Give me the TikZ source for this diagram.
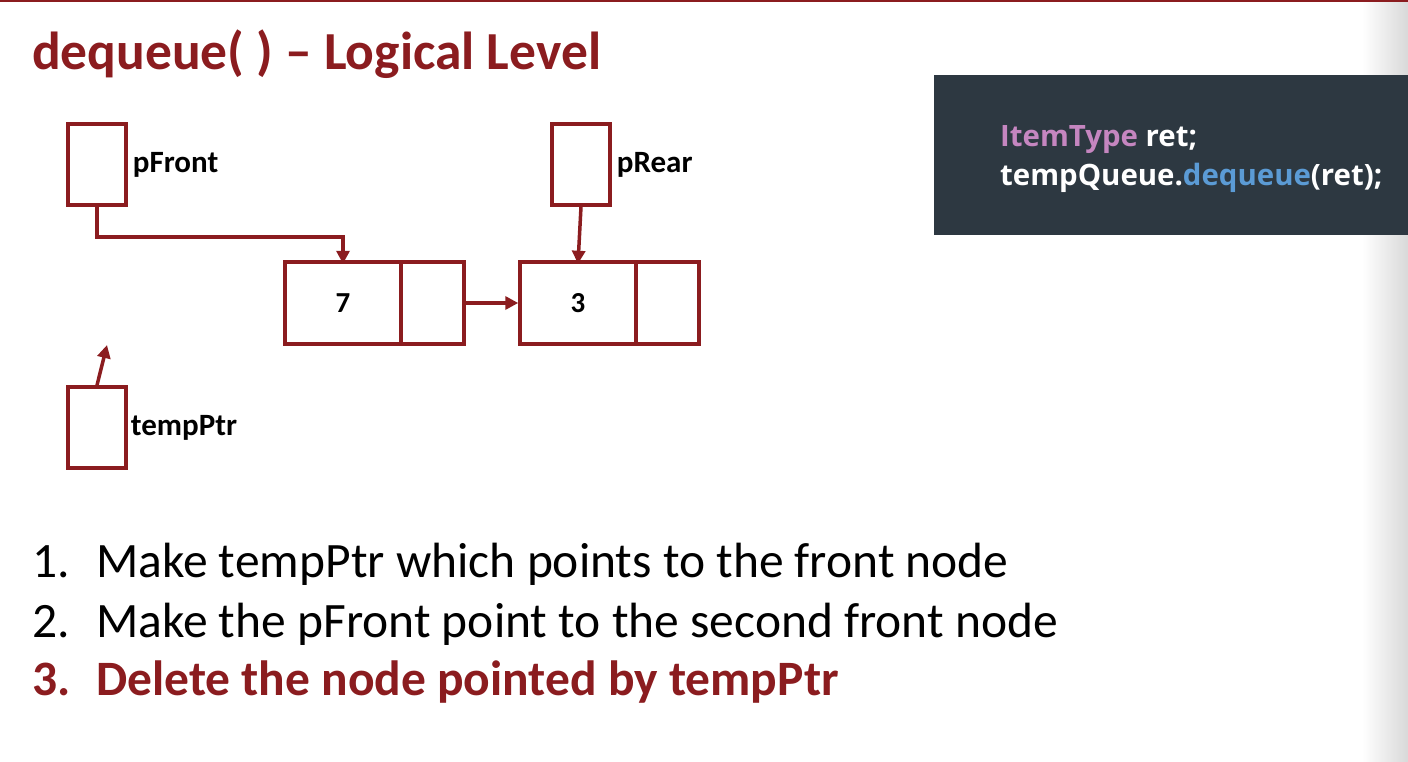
\documentclass[tikz,border=0pt]{standalone}
\usepackage{fontspec}
\setmainfont{Carlito}
\newfontfamily\codefont{Open Sans}
\usetikzlibrary{arrows.meta,positioning}
\definecolor{slidered}{HTML}{8B1C1F}
\definecolor{codebg}{HTML}{2D3841}
\definecolor{codepink}{HTML}{C586C0}
\definecolor{codeblue}{HTML}{5B9BD5}
\tikzset{
  ptrbox/.style={draw=slidered, line width=3.5pt, minimum width=58pt, minimum height=81pt, inner sep=0pt},
  databox/.style={draw=slidered, line width=3.5pt, minimum width=116pt, minimum height=82pt, inner sep=0pt,
    outer sep=0pt, font=\bfseries\fontsize{29}{34}\selectfont},
  nextbox/.style={draw=slidered, line width=3.5pt, minimum width=63pt, minimum height=82pt, inner sep=0pt,
    outer sep=0pt},
  ptrlabel/.style={font=\bfseries\fontsize{31}{36}\selectfont, inner sep=0pt, anchor=west},
  link/.style={draw=slidered, line width=3.5pt, -{Triangle[length=13pt,width=13pt]}},
  bullet/.style={font=\fontsize{49.5}{58}\selectfont, inner sep=0pt, anchor=base west},
}
\begin{document}
\begin{tikzpicture}[x=1pt,y=-1pt]
\useasboundingbox (0,0) rectangle (1408,762);
% rand rechts
\shade[left color=white, right color=gray!30] (1362,0) rectangle (1408,762);
\draw[slidered, line width=2pt] (0,1) -- (1408,1);

% titel
\node[font=\bfseries\fontsize{53.5}{64}\selectfont, text=slidered, inner sep=0pt, anchor=base west]
  (title) at (32,70) {dequeue( ) -- Logical Level};

% zeiger
\node[ptrbox] (front) at (97,164.5) {};
\node[ptrlabel] (frontlbl) at ([xshift=5pt]front.east) {pFront};
\node[ptrbox] (rear) at (581,164.5) {};
\node[ptrlabel] (rearlbl) at ([xshift=5pt]rear.east) {pRear};
\node[ptrbox] (temp) at (97,427.5) {};
\node[ptrlabel] (templbl) at ([xshift=3pt]temp.east) {tempPtr};

% knoten
\node[databox] (data1) at (343,303) {7};
\node[nextbox, anchor=west] (next1) at (data1.east) {};
\node[databox, anchor=west] (data2) at (520,303) {3};
\node[nextbox, anchor=west] (next2) at (data2.east) {};

% pfeile
\draw[link] (front.south) -- ++(0,30) -| ([yshift=-1.75pt]data1.north);
\draw[link] (rear.south) -- ([yshift=-1.75pt]data2.north);
\draw[link] ([xshift=1.75pt]next1.east) -- ([xshift=-1.75pt]data2.west);
\coordinate (tempend) at (107,345);
\draw[link] (temp.north) -- (tempend);

% code
\fill[codebg] (934,75) rectangle (1408,235);
\node[font=\codefont\bfseries\fontsize{29.4}{35}\selectfont, text=white, inner sep=0pt, anchor=base west]
  (code1) at (1000,147) {\textcolor{codepink}{ItemType} ret;};
\node[font=\codefont\bfseries\fontsize{29.4}{35}\selectfont, text=white, inner sep=0pt, anchor=base west]
  (code2) at (1000,186) {tempQueue.\textcolor{codeblue}{dequeue}(ret);};

% schritte
\node[bullet] (num1) at (32,577) {1.};
\node[bullet] (step1) at (96,577) {Make tempPtr which points to the front node};
\node[bullet] (num2) at (32,637) {2.};
\node[bullet] (step2) at (96,637) {Make the pFront point to the second front node};
\node[bullet, font=\bfseries\fontsize{49.5}{58}\selectfont, text=slidered] (num3) at (32,695) {3.};
\node[bullet, font=\bfseries\fontsize{49.5}{58}\selectfont, text=slidered] (step3) at (96,695) {Delete the node pointed by tempPtr};
\end{tikzpicture}
\end{document}
